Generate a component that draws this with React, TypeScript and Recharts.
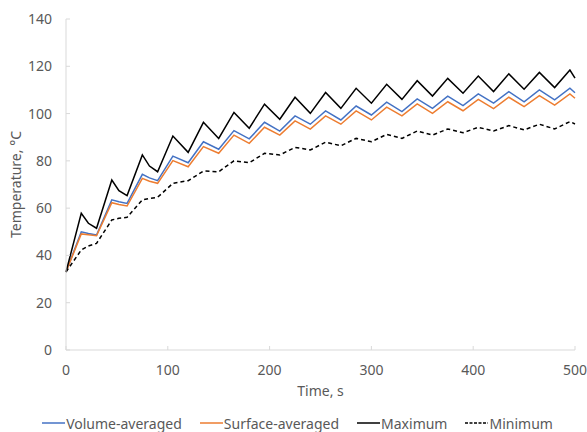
import React from "react";
import { LineChart, Line, XAxis, YAxis, Legend } from "recharts";

// time, s (turning points of each heating / cooling half-cycle)
const times = [
  0, 15, 22, 30, 45, 52, 60, 75, 82, 90, 105, 120, 135, 150, 165, 180, 195, 210,
  225, 240, 255, 270, 285, 300, 315, 330, 345, 360, 375, 390, 405, 420, 435, 450,
  465, 480, 495, 500,
];

const volumeAvg = [
  33, 50, 49.3, 48.6, 63.5, 62.7, 62, 74.3, 72.8, 71.6, 82, 79.2, 88.1, 84.9,
  92.8, 89.3, 96.3, 92.6, 99, 95.5, 101.1, 97.3, 103.2, 99.4, 104.8, 100.8,
  106.2, 102.2, 107.4, 103.4, 108.3, 104.4, 109.3, 105, 110, 105.8, 110.7, 108.8,
];

const surfaceAvg = [
  33, 49.1, 48.7, 48.3, 62.3, 61.5, 60.9, 72.6, 71.4, 70.5, 80.1, 77.5, 86, 83.2,
  90.9, 87.4, 94.2, 90.9, 96.9, 93.4, 99, 95.5, 101.1, 97.3, 102.7, 99, 104.1,
  100.1, 105, 101.2, 106, 102.1, 106.9, 102.9, 107.6, 103.6, 108.3, 106.5,
];

const maximum = [
  33, 57.8, 53.6, 51.5, 71.9, 67.4, 65.3, 82.5, 77.8, 75.4, 90.5, 83.6, 96.3,
  89.5, 100.5, 93.8, 104, 97.6, 106.9, 100.1, 108.9, 102.2, 110.7, 104.4, 112.4,
  106, 113.9, 107.4, 114.9, 108.6, 115.9, 109.3, 116.8, 110.3, 117.4, 111, 118.4,
  115,
];

const minimum = [
  33, 42.3, 44, 45.1, 55, 55.7, 56.1, 63.5, 64.1, 64.6, 70.5, 71.6, 75.7, 75.4,
  80, 79.2, 83.2, 82.5, 85.7, 84.6, 87.9, 86.4, 89.5, 88.1, 91.2, 89.5, 92.6,
  90.9, 93.5, 91.9, 94.2, 92.6, 94.9, 93.1, 95.5, 93.5, 96.6, 95.6,
];

const xTicks = [0, 100, 200, 300, 400, 500];
const yTicks = [0, 20, 40, 60, 80, 100, 120, 140];

const series = [
  { key: "volume", name: "Volume-averaged", color: "#4472C4", dash: undefined },
  { key: "surface", name: "Surface-averaged", color: "#ED7D31", dash: undefined },
  { key: "max", name: "Maximum", color: "#000000", dash: undefined },
  { key: "min", name: "Minimum", color: "#000000", dash: "4 3" },
];

const data = times.map((t, i) => ({
  t,
  volume: volumeAvg[i],
  surface: surfaceAvg[i],
  max: maximum[i],
  min: minimum[i],
}));

const FONT = '"Noto Sans", sans-serif';
const TEXT = "#595959";
const AXIS = "#D9D9D9";

function LegendContent() {
  return (
    <div
      style={{
        display: "flex",
        justifyContent: "center",
        alignItems: "center",
        gap: 18,
        height: 20,
        fontFamily: FONT,
        fontSize: 14,
        color: TEXT,
      }}
    >
      {series.map((s) => (
        <span key={s.key} style={{ display: "flex", alignItems: "center" }}>
          <svg width={23} height={4} style={{ marginRight: 1 }}>
            <line
              x1={0}
              y1={2}
              x2={23}
              y2={2}
              stroke={s.color}
              strokeWidth={1.5}
              strokeDasharray={s.dash ? "3 1.5" : undefined}
            />
          </svg>
          <span>{s.name}</span>
        </span>
      ))}
    </div>
  );
}

export default function App() {
  const tickStyle = { fontSize: 14, fill: TEXT, fontFamily: FONT };
  return (
    <div style={{ position: "absolute", left: 0, top: 0, background: "#fff" }}>
      <LineChart
        width={587}
        height={432}
        data={data}
        margin={{ top: 19, right: 12, left: 0, bottom: 12 }}
      >
        <XAxis
          dataKey="t"
          type="number"
          domain={[0, 500]}
          ticks={xTicks}
          height={50}
          stroke={AXIS}
          tickSize={-4}
          tickMargin={19}
          tick={tickStyle}
          label={{
            value: "Time, s",
            position: "insideBottom",
            offset: 4,
            style: { fontSize: 14, fill: TEXT, fontFamily: FONT },
          }}
        />
        <YAxis
          type="number"
          domain={[0, 140]}
          ticks={yTicks}
          width={66}
          stroke={AXIS}
          tickSize={-4}
          tickMargin={18}
          tick={tickStyle}
          label={{
            value: "Temperature, °C",
            angle: -90,
            position: "insideLeft",
            offset: 16,
            style: { fontSize: 14, fill: TEXT, fontFamily: FONT, textAnchor: "middle" },
          }}
        />
        <Legend
          verticalAlign="bottom"
          content={<LegendContent />}
          wrapperStyle={{ top: 413, bottom: "auto", left: 10 }}
        />
        {series.map((s) => (
          <Line
            key={s.key}
            dataKey={s.key}
            name={s.name}
            type="linear"
            stroke={s.color}
            strokeWidth={1.5}
            strokeDasharray={s.dash}
            dot={false}
            isAnimationActive={false}
          />
        ))}
      </LineChart>
    </div>
  );
}
